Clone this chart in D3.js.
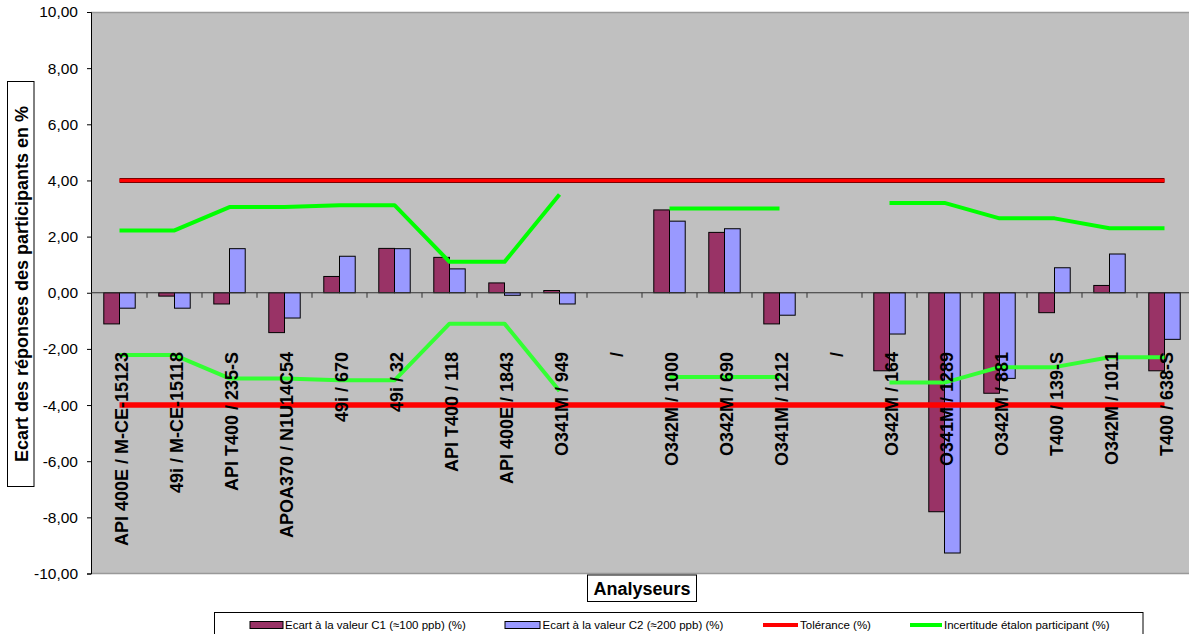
<!DOCTYPE html>
<html>
<head>
<meta charset="utf-8">
<script src="https://cdn.jsdelivr.net/npm/d3@7"></script>
<style>
html,body{margin:0;padding:0;background:#fff;}
svg{display:block;font-family:"Liberation Sans",Arial,sans-serif;}
</style>
</head>
<body>
<svg id="chart" width="1189" height="634"></svg>
<script>
const categories = ["API 400E / M-CE-15123","49i / M-CE-15118","API T400 / 235-S","APOA370 / N1U14C54","49i / 670","49i / 32","API T400 / 118","API 400E / 1843","O341M / 949","/","O342M / 1000","O342M / 690","O341M / 1212","/","O342M / 164","O341M / 1289","O342M / 881","T400 / 139-S","O342M / 1011","T400 / 638-S"];
const c1Values = [-1.11,-0.12,-0.40,-1.42,0.58,1.58,1.26,0.35,0.08,null,2.95,2.15,-1.11,null,-2.78,-7.80,-3.58,-0.71,0.26,-2.78];
const c2Values = [-0.55,-0.55,1.57,-0.90,1.30,1.57,0.85,-0.09,-0.40,null,2.55,2.28,-0.80,null,-1.47,-9.27,-3.05,0.89,1.38,-1.66];
const tolerance = [4,4,4,4,4,4,4,4,4,4,4,4,4,4,4,4,4,4,4,4];
const uncertainty = [2.22,2.22,3.05,3.05,3.12,3.12,1.1,1.1,3.5,null,3.0,3.0,3.0,null,3.2,3.2,2.65,2.65,2.3,2.3];
const yTicks = [-10,-8,-6,-4,-2,0,2,4,6,8,10];
const seriesNames = ["Ecart à la valeur C1 (≈100 ppb) (%)","Ecart à la valeur C2 (≈200 ppb) (%)","Tolérance (%)","Incertitude étalon participant (%)"];
const yTitle = "Ecart des réponses des participants en %";
const xTitle = "Analyseurs";

const svg = d3.select("#chart");
const pLeft = 92, pRight = 1192, pTop = 12, pBottom = 573.5;
const x = d3.scaleBand().domain(d3.range(categories.length)).range([pLeft, pRight]).padding(0);
const y = d3.scaleLinear().domain([-10, 10]).range([pBottom, pTop]);
const bw = x.bandwidth();
const barW = bw / 3.5;
const cx = i => x(i) + bw / 2;
const fmt = v => d3.format(".2f")(v).replace(".", ",").replace("−","-");

// plot background
svg.append("rect").attr("x", pLeft - 1).attr("y", pTop).attr("width", pRight - pLeft + 1).attr("height", pBottom - pTop).attr("fill", "#c0c0c0");
svg.append("line").attr("x1", pLeft - 1).attr("x2", 1189).attr("y1", pTop + 0.5).attr("y2", pTop + 0.5).attr("stroke", "#999").attr("stroke-width", 1.5);
svg.append("line").attr("x1", pLeft - 1).attr("x2", 1189).attr("y1", pBottom).attr("y2", pBottom).attr("stroke", "#999").attr("stroke-width", 1.5);

// y axis
const yAxis = d3.axisLeft(y).tickValues(yTicks).tickFormat(fmt).tickSize(4).tickPadding(9);
const ya = svg.append("g").attr("transform", `translate(${pLeft - 1},0)`).call(yAxis);
ya.select(".domain").attr("stroke", "#000");
ya.selectAll(".tick line").attr("stroke", "#000");
ya.selectAll(".tick text").attr("font-size", "15.5px").attr("fill", "#000").style("font-family", '"Liberation Sans",Arial,sans-serif');

// bars
const g = svg.append("g");
categories.forEach((c, i) => {
  [[c1Values[i], "#993366", 0], [c2Values[i], "#9999ff", 1]].forEach(([v, col, k]) => {
    if (v === null) return;
    const x0 = cx(i) - barW + k * barW;
    g.append("rect")
      .attr("x", x0).attr("width", barW)
      .attr("y", y(Math.max(0, v))).attr("height", Math.abs(y(v) - y(0)))
      .attr("fill", col).attr("stroke", "#000").attr("stroke-width", 1);
  });
});

// x axis at zero
const xAxisG = svg.append("g");
xAxisG.append("line").attr("x1", pLeft - 1).attr("x2", 1189).attr("y1", y(0)).attr("y2", y(0)).attr("stroke", "#333").attr("stroke-width", 1.2);
d3.range(1, categories.length + 1).forEach(i => {
  const xx = pLeft + i * bw;
  xAxisG.append("line").attr("x1", xx).attr("x2", xx).attr("y1", y(0)).attr("y2", y(0) + 5).attr("stroke", "#333").attr("stroke-width", 1);
});

// lines
const lineGen = d3.line().defined(d => d.v !== null).x(d => cx(d.i)).y(d => y(d.v));
const tolUp = tolerance.map((v, i) => ({i, v}));
const tolDown = tolerance.map((v, i) => ({i, v: -v}));
const uncUp = uncertainty.map((v, i) => ({i, v}));
const uncDown = uncertainty.map((v, i) => ({i, v: v === null ? null : -v}));

svg.append("path").attr("d", lineGen(uncUp)).attr("fill", "none").attr("stroke", "#00ff00").attr("stroke-width", 4).attr("stroke-linejoin", "round");
svg.append("path").attr("d", lineGen(uncDown)).attr("fill", "none").attr("stroke", "#33ff33").attr("stroke-width", 4).attr("stroke-linejoin", "round");
svg.append("path").attr("d", lineGen(tolUp)).attr("fill", "none").attr("stroke", "#7a0000").attr("stroke-width", 5);
svg.append("path").attr("d", lineGen(tolUp)).attr("fill", "none").attr("stroke", "#ff0000").attr("stroke-width", 3);
svg.append("path").attr("d", lineGen(tolDown)).attr("fill", "none").attr("stroke", "#ff0000").attr("stroke-width", 5.5);

// category labels
categories.forEach((c, i) => {
  svg.append("text")
    .attr("transform", `translate(${cx(i) + 8.5},352) rotate(-90)`)
    .attr("text-anchor", "end")
    .attr("font-size", "18px").attr("font-weight", "bold").attr("fill", "#000")
    .text(c);
});

// y title box
svg.append("rect").attr("x", 7.5).attr("y", 81.5).attr("width", 26.5).attr("height", 405).attr("fill", "#fff").attr("stroke", "#000").attr("stroke-width", 1);
svg.append("text").attr("transform", `translate(27.5,284) rotate(-90)`).attr("text-anchor", "middle")
  .attr("font-size", "18px").attr("font-weight", "bold").attr("fill", "#000").text(yTitle);

// x title box
svg.append("rect").attr("x", 587.5).attr("y", 575).attr("width", 109).attr("height", 26.5).attr("fill", "#fff").attr("stroke", "#000").attr("stroke-width", 1);
svg.append("text").attr("x", 642).attr("y", 594.5).attr("text-anchor", "middle")
  .attr("font-size", "18px").attr("font-weight", "bold").attr("fill", "#000").text(xTitle);

// legend
svg.append("rect").attr("x", 214.5).attr("y", 612.5).attr("width", 928.5).attr("height", 40).attr("fill", "#fff").attr("stroke", "#000").attr("stroke-width", 1);
const lg = svg.append("g").attr("font-size", "11.5px").attr("fill", "#000");
const ly = 625;
lg.append("rect").attr("x", 250).attr("y", ly - 3.5).attr("width", 33).attr("height", 7).attr("fill", "#993366").attr("stroke", "#000");
lg.append("text").attr("x", 285).attr("y", ly + 4).text(seriesNames[0]);
lg.append("rect").attr("x", 505).attr("y", ly - 3.5).attr("width", 35).attr("height", 7).attr("fill", "#9999ff").attr("stroke", "#000");
lg.append("text").attr("x", 542.5).attr("y", ly + 4).text(seriesNames[1]);
lg.append("line").attr("x1", 763).attr("x2", 798).attr("y1", ly).attr("y2", ly).attr("stroke", "#ff0000").attr("stroke-width", 4);
lg.append("text").attr("x", 800).attr("y", ly + 4).text(seriesNames[2]);
lg.append("line").attr("x1", 910).attr("x2", 942).attr("y1", ly).attr("y2", ly).attr("stroke", "#00ff00").attr("stroke-width", 4);
lg.append("text").attr("x", 944).attr("y", ly + 4).text(seriesNames[3]);
</script>
</body>
</html>
